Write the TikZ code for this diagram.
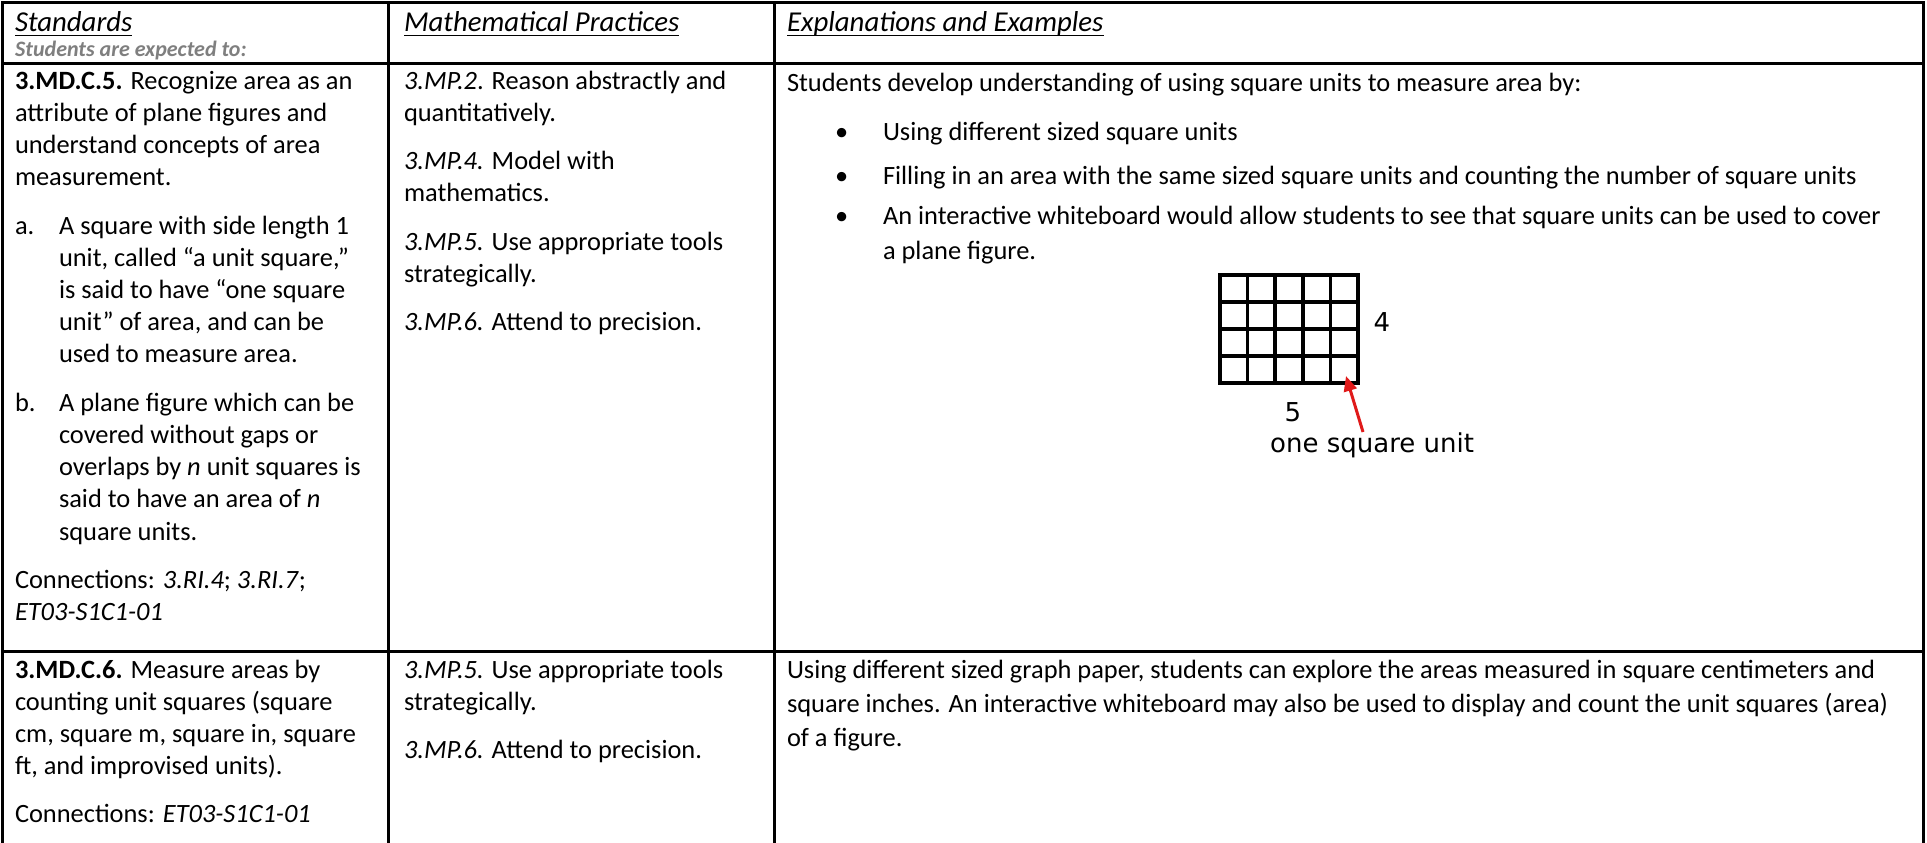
\documentclass[tikz,border=0pt]{standalone}
\usepackage{fontspec}
\setmainfont{Carlito}
\newfontfamily\figfont{DejaVu Sans}
\usetikzlibrary{arrows.meta}
\definecolor{hdrgray}{HTML}{7F7F7F}
\definecolor{arrred}{HTML}{E01A1A}
\newcommand\msz{\fontsize{26.4}{32}\selectfont}
\newcommand\hsz{\fontsize{28.8}{34}\selectfont}
\newcommand\ssz{\fontsize{22}{26}\selectfont}
\newcommand\fsz{\fontsize{26}{31}\selectfont}
\begin{document}
\begin{tikzpicture}[x=1pt,y=-1pt,
  txt/.style={anchor=base west, inner sep=0pt, outer sep=0pt, font=\msz},
  hdr/.style={anchor=base west, inner sep=0pt, outer sep=0pt, font=\hsz\itshape},
  subhdr/.style={anchor=base west, inner sep=0pt, font=\ssz\bfseries\itshape, text=hdrgray},
  figlab/.style={inner sep=0pt, font=\figfont\fsz},
  rule/.style={line width=3pt, line cap=rect},
  uline/.style={line width=1.6pt},
  gridln/.style={line width=3.6pt},
  redarrow/.style={draw=arrred, line width=3pt, -{Triangle[length=15pt,width=13pt]}}]
\useasboundingbox[fill=white] (0,0) rectangle (1927,843);

% ---------- table rules ----------
\draw[rule] (2,3) -- (1923,3);
\draw[rule] (2,64) -- (1923,64);
\draw[rule] (2,651) -- (1923,651);
\draw[rule] (2,3) -- (2,843);
\draw[rule] (388,3) -- (388,843);
\draw[rule] (774,3) -- (774,843);
\draw[rule] (1923,3) -- (1923,843);

% ---------- header ----------
\node[hdr] (hstd) at (15,32) {Standards};
\node[subhdr] (hsub) at (15,57) {Students are expected to:};
\node[hdr] (hmp) at (404,32) {Mathematical Practices};
\node[hdr] (hex) at (787,32) {Explanations and Examples};
\draw[uline] ([yshift=-3.5pt]hstd.base west) -- ([yshift=-3.5pt]hstd.base east);
\draw[uline] ([yshift=-3.5pt]hmp.base west) -- ([yshift=-3.5pt]hmp.base east);
\draw[uline] ([yshift=-3.5pt]hex.base west) -- ([yshift=-3.5pt]hex.base east);

% ---------- row 1, column 1 ----------
\node[txt] (s1a) at (15,89) {\textbf{3.MD.C.5.} Recognize area as an};
\node[txt] (s1b) at (15,121.2) {attribute of plane figures and};
\node[txt] (s1c) at (15,153.4) {understand concepts of area};
\node[txt] (s1d) at (15,185.6) {measurement.};
\node[txt] (la) at (15,234) {a.};
\node[txt] (s1e) at (59,234) {A square with side length 1};
\node[txt] (s1f) at (59,266.2) {unit, called “a unit square,”};
\node[txt] (s1g) at (59,298.4) {is said to have “one square};
\node[txt] (s1h) at (59,330.6) {unit” of area, and can be};
\node[txt] (s1i) at (59,362.8) {used to measure area.};
\node[txt] (lb) at (15,411.2) {b.};
\node[txt] (s1j) at (59,411.2) {A plane figure which can be};
\node[txt] (s1k) at (59,443.4) {covered without gaps or};
\node[txt] (s1l) at (59,475.6) {overlaps by \textit{n} unit squares is};
\node[txt] (s1m) at (59,507.8) {said to have an area of \textit{n}};
\node[txt] (s1n) at (59,540) {square units.};
\node[txt] (s1o) at (15,588.4) {Connections: \textit{3.RI.4}; \textit{3.RI.7};};
\node[txt] (s1p) at (15,620.6) {\textit{ET03-S1C1-01}};

% ---------- row 1, column 2 ----------
\node[txt] (m1a) at (404,89) {\textit{3.MP.2}. Reason abstractly and};
\node[txt] (m1b) at (404,121.2) {quantitatively.};
\node[txt] (m1c) at (404,169.6) {\textit{3.MP.4.} Model with};
\node[txt] (m1d) at (404,201.8) {mathematics.};
\node[txt] (m1e) at (404,250.2) {\textit{3.MP.5.} Use appropriate tools};
\node[txt] (m1f) at (404,282.4) {strategically.};
\node[txt] (m1g) at (404,330.8) {\textit{3.MP.6.} Attend to precision.};

% ---------- row 1, column 3 ----------
\node[txt] (e1a) at (787,91) {Students develop understanding of using square units to measure area by:};
\node[txt] (b1) at (835,140) {\textbullet};
\node[txt] (e1b) at (883,140) {Using different sized square units};
\node[txt] (b2) at (835,184) {\textbullet};
\node[txt] (e1c) at (883,184) {Filling in an area with the same sized square units and counting the number of square units};
\node[txt] (b3) at (835,224) {\textbullet};
\node[txt] (e1d) at (883,224) {An interactive whiteboard would allow students to see that square units can be used to cover};
\node[txt] (e1e) at (883,259) {a plane figure.};

% grid figure
\foreach \i in {1,...,4} {
  \draw[gridln] ({1220+\i*27.6},275) -- ({1220+\i*27.6},383);
}
\foreach \j in {1,...,3} {
  \draw[gridln] (1220,{275+\j*27}) -- (1358,{275+\j*27});
}
\draw[line width=4.5pt] (1220,275) rectangle (1358,383);
\node[figlab] (lab4) at (1382,322) {4};
\node[figlab] (lab5) at (1293,412) {5};
\node[figlab, anchor=west] (labu) at (1270,445) {one square unit};
\coordinate (arrtail) at (1363,432);
\coordinate (arrtip) at (1346,376);
\draw[redarrow] (arrtail) -- (arrtip);

% ---------- row 2 ----------
\node[txt] (s2a) at (15,678) {\textbf{3.MD.C.6.} Measure areas by};
\node[txt] (s2b) at (15,710.2) {counting unit squares (square};
\node[txt] (s2c) at (15,742.4) {cm, square m, square in, square};
\node[txt] (s2d) at (15,774.6) {ft, and improvised units).};
\node[txt] (s2e) at (15,822) {Connections: \textit{ET03-S1C1-01}};

\node[txt] (m2a) at (404,678) {\textit{3.MP.5.} Use appropriate tools};
\node[txt] (m2b) at (404,710.2) {strategically.};
\node[txt] (m2c) at (404,758.6) {\textit{3.MP.6.} Attend to precision.};

\node[txt] (e2a) at (787,678) {Using different sized graph paper, students can explore the areas measured in square centimeters and};
\node[txt] (e2b) at (787,712) {square inches. An interactive whiteboard may also be used to display and count the unit squares (area)};
\node[txt] (e2c) at (787,746) {of a figure.};
\end{tikzpicture}
\end{document}
